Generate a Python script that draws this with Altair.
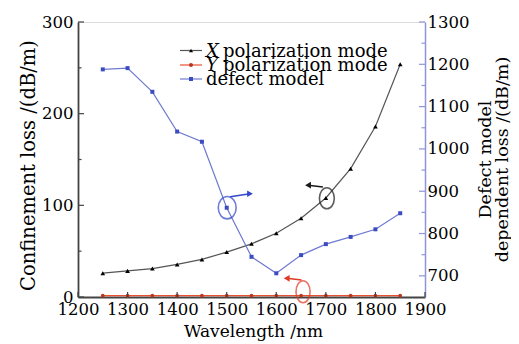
import altair as alt
import pandas as pd

# ---------------- data ----------------
wavelength = [1250, 1300, 1350, 1400, 1450, 1500, 1550, 1600, 1650, 1700, 1750, 1800, 1850]
x_pol_loss = [26, 28.5, 31, 35.5, 41, 49, 58, 69.5, 86, 108, 140, 186, 254]
y_pol_loss = [1.5, 1.5, 1.5, 1.5, 1.5, 1.5, 1.5, 1.5, 1.5, 1.5, 1.5, 1.5, 1.5]
defect_loss = [1188, 1191, 1135, 1041, 1017, 861, 745, 706, 749, 775, 792, 810, 848]

x_ticks = [1200, 1300, 1400, 1500, 1600, 1700, 1800, 1900]
left_ticks = [0, 100, 200, 300]
left_minor = [50, 150, 250]
right_ticks = [700, 800, 900, 1000, 1100, 1200, 1300]
right_minor = [750, 850, 950, 1050, 1150, 1250]

# annotation positions (data units)
black_mark = {"w": 1702, "v": 107.7, "ax": 1694, "ay": 120, "bx": 1664, "by": 122}
red_mark = {"w": 1654, "v": 5.8, "ax": 1651, "ay": 18.5, "bx": 1621, "by": 20.4}
blue_mark = {"w": 1501, "v": 861, "ax": 1507, "ay": 887, "bx": 1547, "by": 894}

legend_labels_lead = ["X", "Y", ""]
legend_labels_rest = ["polarization mode", "polarization mode", "defect model"]

FONT = "DejaVu Serif"
W, H = 347, 275
BLACK_LINE = "#555555"
RED = "#e8502e"
RED_DARK = "#b8361f"
BLUE_LINE = "#6f7ad0"
BLUE_PT = "#3b4cc0"
AX = "#444444"
BLUE_AX = "#8f95d8"

df = pd.DataFrame({"wavelength": wavelength, "xpol": x_pol_loss,
                   "ypol": y_pol_loss, "defect": defect_loss})

xscale = alt.Scale(domain=[1200, 1900], nice=False)
lscale = alt.Scale(domain=[0, 300], nice=False)
rscale = alt.Scale(domain=[650, 1300], nice=False)

xaxis = alt.Axis(values=x_ticks, title="Wavelength /nm", ticks=False, grid=False,
                 labelFont=FONT, labelFontSize=16.5, labelColor="black", labelPadding=4,
                 labelFlush=False, labelOverlap=False, format="d",
                 titleFont=FONT, titleFontSize=17, titleFontWeight="normal", titleColor="black",
                 titleX=175, titleY=34, titleBaseline="middle", titleAlign="center",
                 domainColor=AX, domainWidth=1.8)
laxis = alt.Axis(values=left_ticks, title="Confinement loss /(dB/m)", ticks=False, grid=False,
                 labelFont=FONT, labelFontSize=16.5, labelColor="black", labelPadding=5,
                 labelFlush=False, labelOverlap=False, format="d",
                 titleFont=FONT, titleFontSize=19.5, titleFontWeight="normal", titleColor="black",
                 titleAngle=270, titleX=-50, titleY=143, titleBaseline="middle", titleAlign="center",
                 domainColor=AX, domainWidth=1.8)
raxis = alt.Axis(values=right_ticks, title=["Defect model", "dependent loss /(dB/m)"], orient="right",
                 ticks=False, grid=False, format="d",
                 labelFont=FONT, labelFontSize=16.5, labelColor="black", labelPadding=2,
                 labelFlush=False, labelOverlap=False,
                 titleFont=FONT, titleFontSize=17.5, titleFontWeight="normal", titleColor="black",
                 titleAngle=270, titleX=51, titleY=137, titleBaseline="top", titleAlign="center",
                 titleLineHeight=17,
                 domainColor=BLUE_AX, domainWidth=1.5)

base = alt.Chart(df)
X = alt.X("wavelength:Q", scale=xscale, axis=xaxis)

# ---------------- left-scale layers ----------------
xpol_line = base.mark_line(color=BLACK_LINE, strokeWidth=1.2).encode(
    x=X, y=alt.Y("xpol:Q", scale=lscale, axis=laxis))
xpol_pts = base.mark_point(shape="triangle-up", filled=True, color="black", size=22, opacity=1).encode(
    x="wavelength:Q", y="xpol:Q")
ypol_line = base.mark_line(color=RED, strokeWidth=1.4).encode(x="wavelength:Q", y="ypol:Q")
ypol_pts = base.mark_point(shape="circle", filled=True, color=RED_DARK, size=14, opacity=1).encode(
    x="wavelength:Q", y="ypol:Q")

lt = pd.DataFrame({"v": left_ticks})
ltm = pd.DataFrame({"v": left_minor})
lt_major = alt.Chart(lt).mark_rule(color=AX, strokeWidth=1.2).encode(
    y="v:Q", x=alt.value(0), x2=alt.value(6))
lt_minor = alt.Chart(ltm).mark_rule(color=AX, strokeWidth=1.2).encode(
    y="v:Q", x=alt.value(0), x2=alt.value(3.5))

ann_l = pd.DataFrame([
    {"w": black_mark["w"], "v": black_mark["v"], "ax": black_mark["ax"], "ay": black_mark["ay"],
     "bx": black_mark["bx"], "by": black_mark["by"], "c": "black"},
    {"w": red_mark["w"], "v": red_mark["v"], "ax": red_mark["ax"], "ay": red_mark["ay"],
     "bx": red_mark["bx"], "by": red_mark["by"], "c": "red"},
])
cscale = alt.Scale(domain=["black", "red", "blue"], range=["#1a1a1a", "#e03a25", "#3347c8"])
ell_black = alt.Chart(ann_l.iloc[[0]]).mark_point(
    shape="M0,-1 A0.71,1 0 1,1 0,1 A0.71,1 0 1,1 0,-1 Z", filled=False, size=441, strokeWidth=1.6).encode(
    x="w:Q", y="v:Q", color=alt.Color("c:N", scale=cscale, legend=None))
ell_red = alt.Chart(ann_l.iloc[[1]]).mark_point(
    shape="M0,-1 A0.64,1 0 1,1 0,1 A0.64,1 0 1,1 0,-1 Z", filled=False, size=484, strokeWidth=1.6).encode(
    x="w:Q", y="v:Q", color=alt.Color("c:N", scale=cscale, legend=None))
arr_l = alt.Chart(ann_l).mark_rule(strokeWidth=1.5).encode(
    x="ax:Q", x2="bx:Q", y="ay:Q", y2="by:Q", color=alt.Color("c:N", scale=cscale, legend=None))
head_l = alt.Chart(ann_l).mark_point(shape="triangle-left", filled=True, size=45, opacity=1).encode(
    x="bx:Q", y="by:Q", color=alt.Color("c:N", scale=cscale, legend=None))

# manual legend (pixel positions inside plot area)
leg_y = [28.5, 43, 57]
leg_line_col = [BLACK_LINE, RED, BLUE_LINE]
leg_pt_col = ["black", RED_DARK, BLUE_PT]
leg_shape = ["triangle-up", "circle", "square"]
leg_rest_x = [145, 145, 128]
leg_layers = []
for i in range(3):
    r = pd.DataFrame({"lead": [legend_labels_lead[i]], "rest": [legend_labels_rest[i]]})
    yy = float(leg_y[i])
    leg_layers.append(alt.Chart(r).mark_rule(color=leg_line_col[i], strokeWidth=1.2).encode(
        x=alt.value(102), x2=alt.value(124), y=alt.value(yy)))
    leg_layers.append(alt.Chart(r).mark_point(shape=leg_shape[i], filled=True, color=leg_pt_col[i],
                                              size=16, opacity=1).encode(
        x=alt.value(113), y=alt.value(yy)))
    if legend_labels_lead[i]:
        leg_layers.append(alt.Chart(r).mark_text(font=FONT, fontSize=18, fontStyle="italic", align="left",
                                                 baseline="middle", color="black").encode(
            x=alt.value(128), y=alt.value(yy + 1), text="lead:N"))
    leg_layers.append(alt.Chart(r).mark_text(font=FONT, fontSize=18, align="left",
                                             baseline="middle", color="black").encode(
        x=alt.value(float(leg_rest_x[i])), y=alt.value(yy + 1), text="rest:N"))

bt = pd.DataFrame({"v": x_ticks})
bt_major = alt.Chart(bt).mark_rule(color=AX, strokeWidth=1.2).encode(
    x="v:Q", y=alt.value(H), y2=alt.value(H - 5))

left = alt.layer(ypol_line, ypol_pts, xpol_line, xpol_pts, lt_major, lt_minor, bt_major,
                 ell_black, ell_red, arr_l, head_l, *leg_layers)

# ---------------- right-scale layers ----------------
def_line = base.mark_line(color=BLUE_LINE, strokeWidth=1.2).encode(
    x="wavelength:Q", y=alt.Y("defect:Q", scale=rscale, axis=raxis))
def_pts = base.mark_point(shape="square", filled=True, color=BLUE_PT, size=16, opacity=1).encode(
    x="wavelength:Q", y="defect:Q")
rt = pd.DataFrame({"v": right_ticks})
rtm = pd.DataFrame({"v": right_minor})
rt_major = alt.Chart(rt).mark_rule(color=BLUE_AX, strokeWidth=1.2).encode(
    y="v:Q", x=alt.value(W), x2=alt.value(W - 6))
rt_minor = alt.Chart(rtm).mark_rule(color=BLUE_AX, strokeWidth=1.2).encode(
    y="v:Q", x=alt.value(W), x2=alt.value(W - 3.5))
ann_r = pd.DataFrame([{"w": blue_mark["w"], "v": blue_mark["v"], "ax": blue_mark["ax"], "ay": blue_mark["ay"],
                       "bx": blue_mark["bx"], "by": blue_mark["by"], "c": "blue"}])
ell_blue = alt.Chart(ann_r).mark_point(
    shape="M0,-1 A0.8,1 0 1,1 0,1 A0.8,1 0 1,1 0,-1 Z", filled=False, size=500, strokeWidth=1.6).encode(
    x="w:Q", y="v:Q", color=alt.Color("c:N", scale=cscale, legend=None))
arr_r = alt.Chart(ann_r).mark_rule(strokeWidth=1.5).encode(
    x="ax:Q", x2="bx:Q", y="ay:Q", y2="by:Q", color=alt.Color("c:N", scale=cscale, legend=None))
head_r = alt.Chart(ann_r).mark_point(shape="triangle-right", filled=True, size=45, opacity=1).encode(
    x="bx:Q", y="by:Q", color=alt.Color("c:N", scale=cscale, legend=None))

right = alt.layer(def_line, def_pts, rt_major, rt_minor, ell_blue, arr_r, head_r)

chart = alt.layer(left, right).resolve_scale(y="independent").properties(
    width=W, height=H, autosize="none",
    padding={"left": 70, "top": 14, "right": 86, "bottom": 50},
).configure_view(stroke=AX, strokeWidth=1.8).configure(background="white")

chart.save("out.html", embed_options={"renderer": "svg", "actions": False})
